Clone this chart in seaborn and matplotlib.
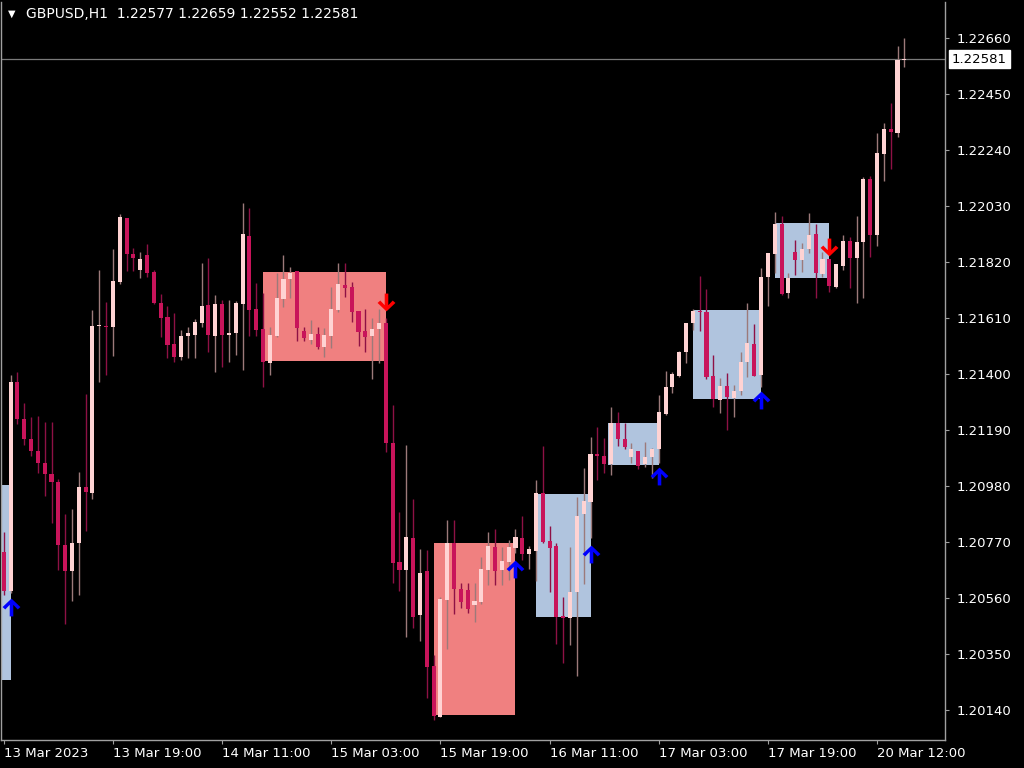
import numpy as np
import pandas as pd
import seaborn as sns
import matplotlib.pyplot as plt
import matplotlib.patches as mpatches
from matplotlib.path import Path

# H1 candles, 13 Mar 03:00 .. 20 Mar 16:00
opens = [1.20733, 1.20586, 1.21370, 1.21231, 1.21156, 1.21111, 1.21066, 1.21025, 1.20995, 1.20759,
         1.20661, 1.20766, 1.20976, 1.20954, 1.21580, 1.21580, 1.21576, 1.21745, 1.21985, 1.21850,
         1.21790, 1.21846, 1.21783, 1.21666, 1.21614, 1.21513, 1.21464, 1.21543, 1.21546, 1.21591,
         1.21659, 1.21543, 1.21663, 1.21546, 1.21554, 1.21663, 1.21918, 1.21644, 1.21569, 1.21441,
         1.21543, 1.21681, 1.21756, 1.21786, 1.21561, 1.21528, 1.21550, 1.21501, 1.21543, 1.21640,
         1.21734, 1.21726, 1.21636, 1.21561, 1.21543, 1.21569, 1.21591, 1.21141, 1.20695, 1.20665,
         1.20785, 1.20496, 1.20661, 1.20305, 1.20114, 1.20553, 1.20766, 1.20594, 1.20590, 1.20534,
         1.20545, 1.20665, 1.20751, 1.20665, 1.20695, 1.20748, 1.20785, 1.20725, 1.20736, 1.20954,
         1.20774, 1.20755, 1.20493, 1.20485, 1.20583, 1.20875, 1.20920, 1.21100, 1.21093, 1.21063,
         1.21216, 1.21156, 1.21089, 1.21111, 1.21063, 1.21089, 1.21119, 1.21250, 1.21351, 1.21393,
         1.21483, 1.21591, 1.21636, 1.21633, 1.21393, 1.21303, 1.21355, 1.21310, 1.21336, 1.21445,
         1.21513, 1.21396, 1.21764, 1.21850, 1.21963, 1.21704, 1.21858, 1.21828, 1.21869, 1.21925,
         1.21775, 1.21831, 1.21726, 1.21805, 1.21899, 1.21835, 1.21895, 1.22131, 1.21921, 1.22225,
         1.22319, 1.22304, 1.22577]
highs = [1.20808, 1.21396, 1.21408, 1.21291, 1.21239, 1.21243, 1.21220, 1.21220, 1.21006, 1.20875,
         1.20894, 1.21033, 1.21325, 1.21640, 1.21790, 1.21670, 1.21869, 1.22000, 1.21985, 1.21873,
         1.21858, 1.21888, 1.21790, 1.21700, 1.21655, 1.21629, 1.21565, 1.21576, 1.21606, 1.21816,
         1.21835, 1.21696, 1.21678, 1.21678, 1.21674, 1.22041, 1.22023, 1.21741, 1.21704, 1.21576,
         1.21779, 1.21846, 1.21801, 1.21786, 1.21576, 1.21603, 1.21576, 1.21573, 1.21726, 1.21816,
         1.21816, 1.21745, 1.21636, 1.21644, 1.21610, 1.21644, 1.21610, 1.21284, 1.20883, 1.21134,
         1.20931, 1.20744, 1.20740, 1.20346, 1.20564, 1.20853, 1.20853, 1.20616, 1.20616, 1.20616,
         1.20714, 1.20808, 1.20819, 1.20751, 1.20778, 1.20819, 1.20868, 1.20755, 1.21003, 1.21130,
         1.20830, 1.20766, 1.20564, 1.20751, 1.20939, 1.21048, 1.21164, 1.21201, 1.21160, 1.21276,
         1.21258, 1.21216, 1.21141, 1.21111, 1.21145, 1.21123, 1.21321, 1.21411, 1.21408, 1.21486,
         1.21591, 1.21644, 1.21768, 1.21719, 1.21471, 1.21385, 1.21404, 1.21359, 1.21483, 1.21666,
         1.21588, 1.21798, 1.21854, 1.22008, 1.21993, 1.21779, 1.21903, 1.21891, 1.22004, 1.21963,
         1.21858, 1.21831, 1.21813, 1.21921, 1.21914, 1.21993, 1.22139, 1.22143, 1.22304, 1.22341,
         1.22416, 1.22630, 1.22659]
lows = [1.20571, 1.20579, 1.21213, 1.21134, 1.21093, 1.21029, 1.20943, 1.20841, 1.20665, 1.20463,
        1.20549, 1.20571, 1.20811, 1.20931, 1.21370, 1.21396, 1.21468, 1.21738, 1.21786, 1.21786,
        1.21760, 1.21764, 1.21663, 1.21539, 1.21460, 1.21445, 1.21453, 1.21460, 1.21460, 1.21576,
        1.21483, 1.21408, 1.21426, 1.21445, 1.21471, 1.21415, 1.21543, 1.21543, 1.21351, 1.21396,
        1.21539, 1.21651, 1.21685, 1.21524, 1.21524, 1.21513, 1.21494, 1.21464, 1.21498, 1.21633,
        1.21689, 1.21595, 1.21505, 1.21483, 1.21381, 1.21441, 1.21108, 1.20616, 1.20586, 1.20414,
        1.20448, 1.20399, 1.20185, 1.20103, 1.20114, 1.20369, 1.20500, 1.20523, 1.20504, 1.20470,
        1.20538, 1.20609, 1.20609, 1.20609, 1.20628, 1.20729, 1.20703, 1.20669, 1.20624, 1.20766,
        1.20583, 1.20388, 1.20316, 1.20384, 1.20268, 1.20613, 1.20785, 1.21003, 1.21029, 1.21021,
        1.21130, 1.21119, 1.21066, 1.21044, 1.21051, 1.21010, 1.21066, 1.21246, 1.21329, 1.21389,
        1.21441, 1.21565, 1.21561, 1.21381, 1.21276, 1.21254, 1.21190, 1.21239, 1.21321, 1.21389,
        1.21393, 1.21351, 1.21655, 1.21779, 1.21696, 1.21685, 1.21771, 1.21783, 1.21854, 1.21685,
        1.21764, 1.21708, 1.21723, 1.21790, 1.21723, 1.21666, 1.21685, 1.21839, 1.21880, 1.22124,
        1.22169, 1.22289, 1.22552]
closes = [1.20586, 1.21370, 1.21231, 1.21156, 1.21111, 1.21066, 1.21025, 1.20995, 1.20759, 1.20661,
          1.20766, 1.20976, 1.20958, 1.21580, 1.21584, 1.21576, 1.21749, 1.21989, 1.21850, 1.21835,
          1.21831, 1.21779, 1.21666, 1.21610, 1.21509, 1.21464, 1.21543, 1.21554, 1.21595, 1.21655,
          1.21546, 1.21663, 1.21546, 1.21554, 1.21666, 1.21925, 1.21640, 1.21565, 1.21445, 1.21546,
          1.21685, 1.21756, 1.21779, 1.21573, 1.21535, 1.21550, 1.21501, 1.21546, 1.21644, 1.21738,
          1.21723, 1.21633, 1.21558, 1.21539, 1.21569, 1.21591, 1.21141, 1.20691, 1.20665, 1.20789,
          1.20489, 1.20654, 1.20301, 1.20118, 1.20556, 1.20766, 1.20594, 1.20545, 1.20519, 1.20549,
          1.20669, 1.20755, 1.20661, 1.20699, 1.20751, 1.20789, 1.20725, 1.20744, 1.20954, 1.20770,
          1.20748, 1.20489, 1.20485, 1.20583, 1.20868, 1.20924, 1.21100, 1.21093, 1.21063, 1.21216,
          1.21156, 1.21126, 1.21119, 1.21055, 1.21089, 1.21119, 1.21258, 1.21351, 1.21400, 1.21483,
          1.21591, 1.21636, 1.21633, 1.21389, 1.21306, 1.21355, 1.21314, 1.21336, 1.21445, 1.21516,
          1.21393, 1.21764, 1.21854, 1.21963, 1.21700, 1.21760, 1.21828, 1.21869, 1.21921, 1.21779,
          1.21831, 1.21730, 1.21813, 1.21899, 1.21835, 1.21895, 1.22131, 1.21921, 1.22229, 1.22319,
          1.22308, 1.22577, 1.22581]

time_ticks = [0, 16, 32, 48, 64, 80, 96, 112, 128]
time_labels = ['13 Mar 2023', '13 Mar 19:00', '14 Mar 11:00', '15 Mar 03:00', '15 Mar 19:00',
               '16 Mar 11:00', '17 Mar 03:00', '17 Mar 19:00', '20 Mar 12:00']
price_ticks = [1.22660, 1.22450, 1.22240, 1.22030, 1.21820, 1.21610, 1.21400,
               1.21190, 1.20980, 1.20770, 1.20560, 1.20350, 1.20140]

# supply / demand zones
zone_start = [-1, 38, 63, 78, 88.6, 101, 113]
zone_end = [1, 56, 75, 86, 96, 111, 121]
zone_top = [1.20984, 1.21783, 1.20766, 1.20950, 1.21216, 1.21640, 1.21966]
zone_bottom = [1.20253, 1.21449, 1.20121, 1.20489, 1.21059, 1.21306, 1.21760]
zone_kind = ['buy', 'sell', 'sell', 'buy', 'buy', 'buy', 'buy']

# signal arrows
up_bars = [1, 75, 86, 96, 111]
up_prices = [1.20526, 1.20669, 1.20725, 1.21018, 1.21303]
down_bars = [56, 121]
down_prices = [1.21670, 1.21876]

symbol = 'GBPUSD,H1'
last_price = 1.22581

df = pd.DataFrame({'bar': np.arange(len(opens)), 'open': opens, 'high': highs,
                   'low': lows, 'close': closes})
df['bull'] = df['close'] >= df['open']

sns.set_style('dark', rc={'axes.facecolor': 'black', 'figure.facecolor': 'black',
                          'axes.edgecolor': '#a0a0a0', 'axes.grid': False})
plt.rcParams['font.family'] = ['DejaVu Sans']

fig = plt.figure(figsize=(10.24, 7.68), dpi=100)
ax = fig.add_axes([0.001, 28 / 768, 944 / 1024, 738 / 768])

zone_colors = {'buy': '#b0c4de', 'sell': '#f08080'}
for x0, x1, top, bot, kind in zip(zone_start, zone_end, zone_top, zone_bottom, zone_kind):
    ax.add_patch(mpatches.Rectangle((x0, bot), x1 - x0, top - bot, facecolor=zone_colors[kind],
                                    edgecolor='none', zorder=1))

ax.axhline(last_price, color='#7a7a7a', lw=0.9, zorder=1.5)

wick_colors = np.where(df['bull'], '#9c7a7a', '#8e1145')
body_colors = np.where(df['bull'], '#ffd3d3', '#c8145a')
ax.vlines(df['bar'], df['low'], df['high'], colors=wick_colors, lw=1, zorder=2)
body_low = np.minimum(df['open'], df['close'])
body_h = np.maximum((df['close'] - df['open']).abs(), 0.00004)
ax.bar(df['bar'], body_h, bottom=body_low, width=0.6, color=body_colors, linewidth=0, zorder=3)

# wingdings-like thick arrow marker
arrow_up = Path([(0, 1), (1, 0.05), (0.7, -0.22), (0.2, 0.3), (0.2, -1), (-0.2, -1),
                 (-0.2, 0.3), (-0.7, -0.22), (-1, 0.05), (0, 1)], closed=True)
arrow_down = Path([(x, -y) for x, y in arrow_up.vertices], closed=True)
ax.scatter(up_bars, up_prices, marker=arrow_up, s=165, color='#0000ff', linewidths=0, zorder=4)
ax.scatter(down_bars, down_prices, marker=arrow_down, s=165, color='#ff0000', linewidths=0, zorder=4)

ax.set_xlim(-0.4, 137.96)
ax.set_ylim(1.200275, 1.22795)

ax.yaxis.tick_right()
ax.set_yticks(price_ticks)
ax.set_yticklabels([f'{p:.5f}' for p in price_ticks])
ax.tick_params(axis='y', which='both', direction='out', length=3, color='#a0a0a0',
               labelcolor='white', labelsize=9.5, right=True, left=False, pad=5)
ax.set_xticks(time_ticks)
ax.set_xticklabels(time_labels)
ax.tick_params(axis='x', direction='out', length=3, color='#a0a0a0', labelcolor='white',
               labelsize=9.5, bottom=True, pad=2)
for lbl in ax.get_xticklabels():
    lbl.set_horizontalalignment('left')

for sp in ax.spines.values():
    sp.set_color('#a0a0a0')
    sp.set_linewidth(1)
ax.spines['top'].set_visible(False)

ax.annotate(f'{last_price:.5f}', xy=(1.0, last_price), xycoords=('axes fraction', 'data'),
            xytext=(5, 0), textcoords='offset points', ha='left', va='center', color='black',
            fontsize=9.5, annotation_clip=False,
            bbox=dict(boxstyle='square,pad=0.2', facecolor='white', edgecolor='white'))

fig.text(8 / 1024, 1 - 14 / 768, '\u25bc', color='white', fontsize=7, va='center')
fig.text(26 / 1024, 1 - 14 / 768,
         f'{symbol}  {opens[-1]:.5f} {highs[-1]:.5f} {lows[-1]:.5f} {closes[-1]:.5f}',
         color='white', fontsize=10, va='center')

fig.savefig('out.png', dpi=100, facecolor='black')
